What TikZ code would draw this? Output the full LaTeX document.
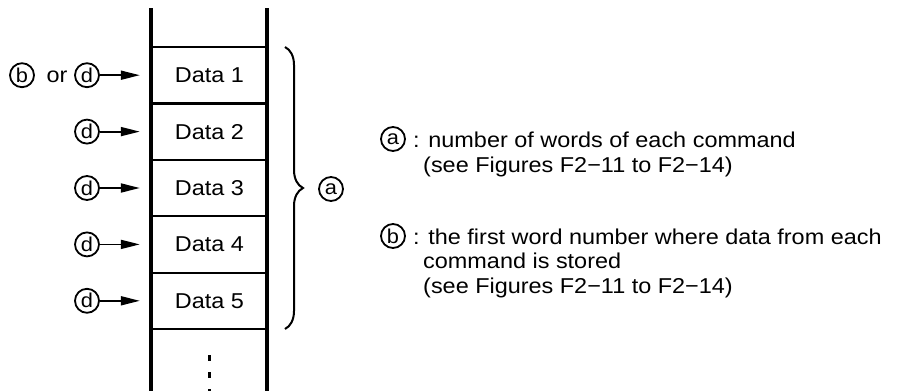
\documentclass[tikz,border=0pt]{standalone}
\usepackage{fontspec}
\setmainfont[FakeStretch=1.09]{Liberation Sans}
\usetikzlibrary{decorations.pathreplacing,arrows.meta}
\begin{document}
\begin{tikzpicture}[x=1pt,y=-1pt,
  lbl/.style={circle,draw,line width=1.8pt,minimum size=24pt,inner sep=0pt,font=\fontsize{20}{20}\selectfont},
  cell/.style={rectangle,minimum width=115pt,minimum height=56.4pt,inner sep=0pt,font=\fontsize{21.5}{24}\selectfont},
  txt/.style={anchor=base west,inner sep=0pt,font=\fontsize{21.5}{24}\selectfont},
  rail/.style={line width=4pt},
  sep/.style={line width=2.2pt},
  feed/.style={line width=1.8pt,-{Triangle[length=19pt,width=9pt]},shorten >=12pt}]
\useasboundingbox (0,0) rectangle (903,391);
% cells
\node[cell] (d1) at (209.5,75.2) {Data 1};
\node[cell] (d2) at (209.5,131.6) {Data 2};
\node[cell] (d3) at (209.5,188) {Data 3};
\node[cell] (d4) at (209.5,244.4) {Data 4};
\node[cell] (d5) at (209.5,300.8) {Data 5};
% rails
\draw[rail] (151,8) -- (151,391);
\draw[rail] (267,8) -- (267,391);
% separators
\foreach \yy in {47,103.4,159.8,216.2,272.6,329}
  \draw[sep] (152,\yy) -- (267,\yy);
% dots
\coordinate (dotA) at (209.5,355);
\coordinate (dotB) at (209.5,391);
\draw[line width=2.2pt,dash pattern=on 6pt off 11pt] (dotA) -- (dotB);
% left labels
\node[lbl] (b0) at (22,75.2) {b};
\node[txt,anchor=base] (or) at (57,82) {or};
\node[lbl] (l1) at (87,75.2) {d};
\node[lbl] (l2) at (87,131.6) {d};
\node[lbl] (l3) at (87,188) {d};
\node[lbl] (l4) at (87,244.4) {d};
\node[lbl] (l5) at (87,300.8) {d};
\draw[feed] (l1) -- (d1);
\draw[feed] (l2) -- (d2);
\draw[feed] (l3) -- (d3);
\draw[feed] (l4) -- (d4);
\draw[feed] (l5) -- (d5);
% brace
\coordinate (brT) at (285,47);
\coordinate (brB) at (285,329);
\draw[line width=2pt,decorate,decoration={brace,amplitude=18pt}] (brT) -- (brB);
\node[lbl] (ca) at (331,189) {a};
% legend
\node[lbl] (ka) at (393,139) {a};
\node[txt] (ta1) at (413,147) {: number of words of each command};
\node[txt] (ta2) at (423,172) {(see Figures F2−11 to F2−14)};
\node[lbl] (kb) at (393,236) {b};
\node[txt] (tb1) at (413,244) {: the first word number where data from each};
\node[txt] (tb2) at (423,268.5) {command is stored};
\node[txt] (tb3) at (423,293) {(see Figures F2−11 to F2−14)};
\end{tikzpicture}
\end{document}
